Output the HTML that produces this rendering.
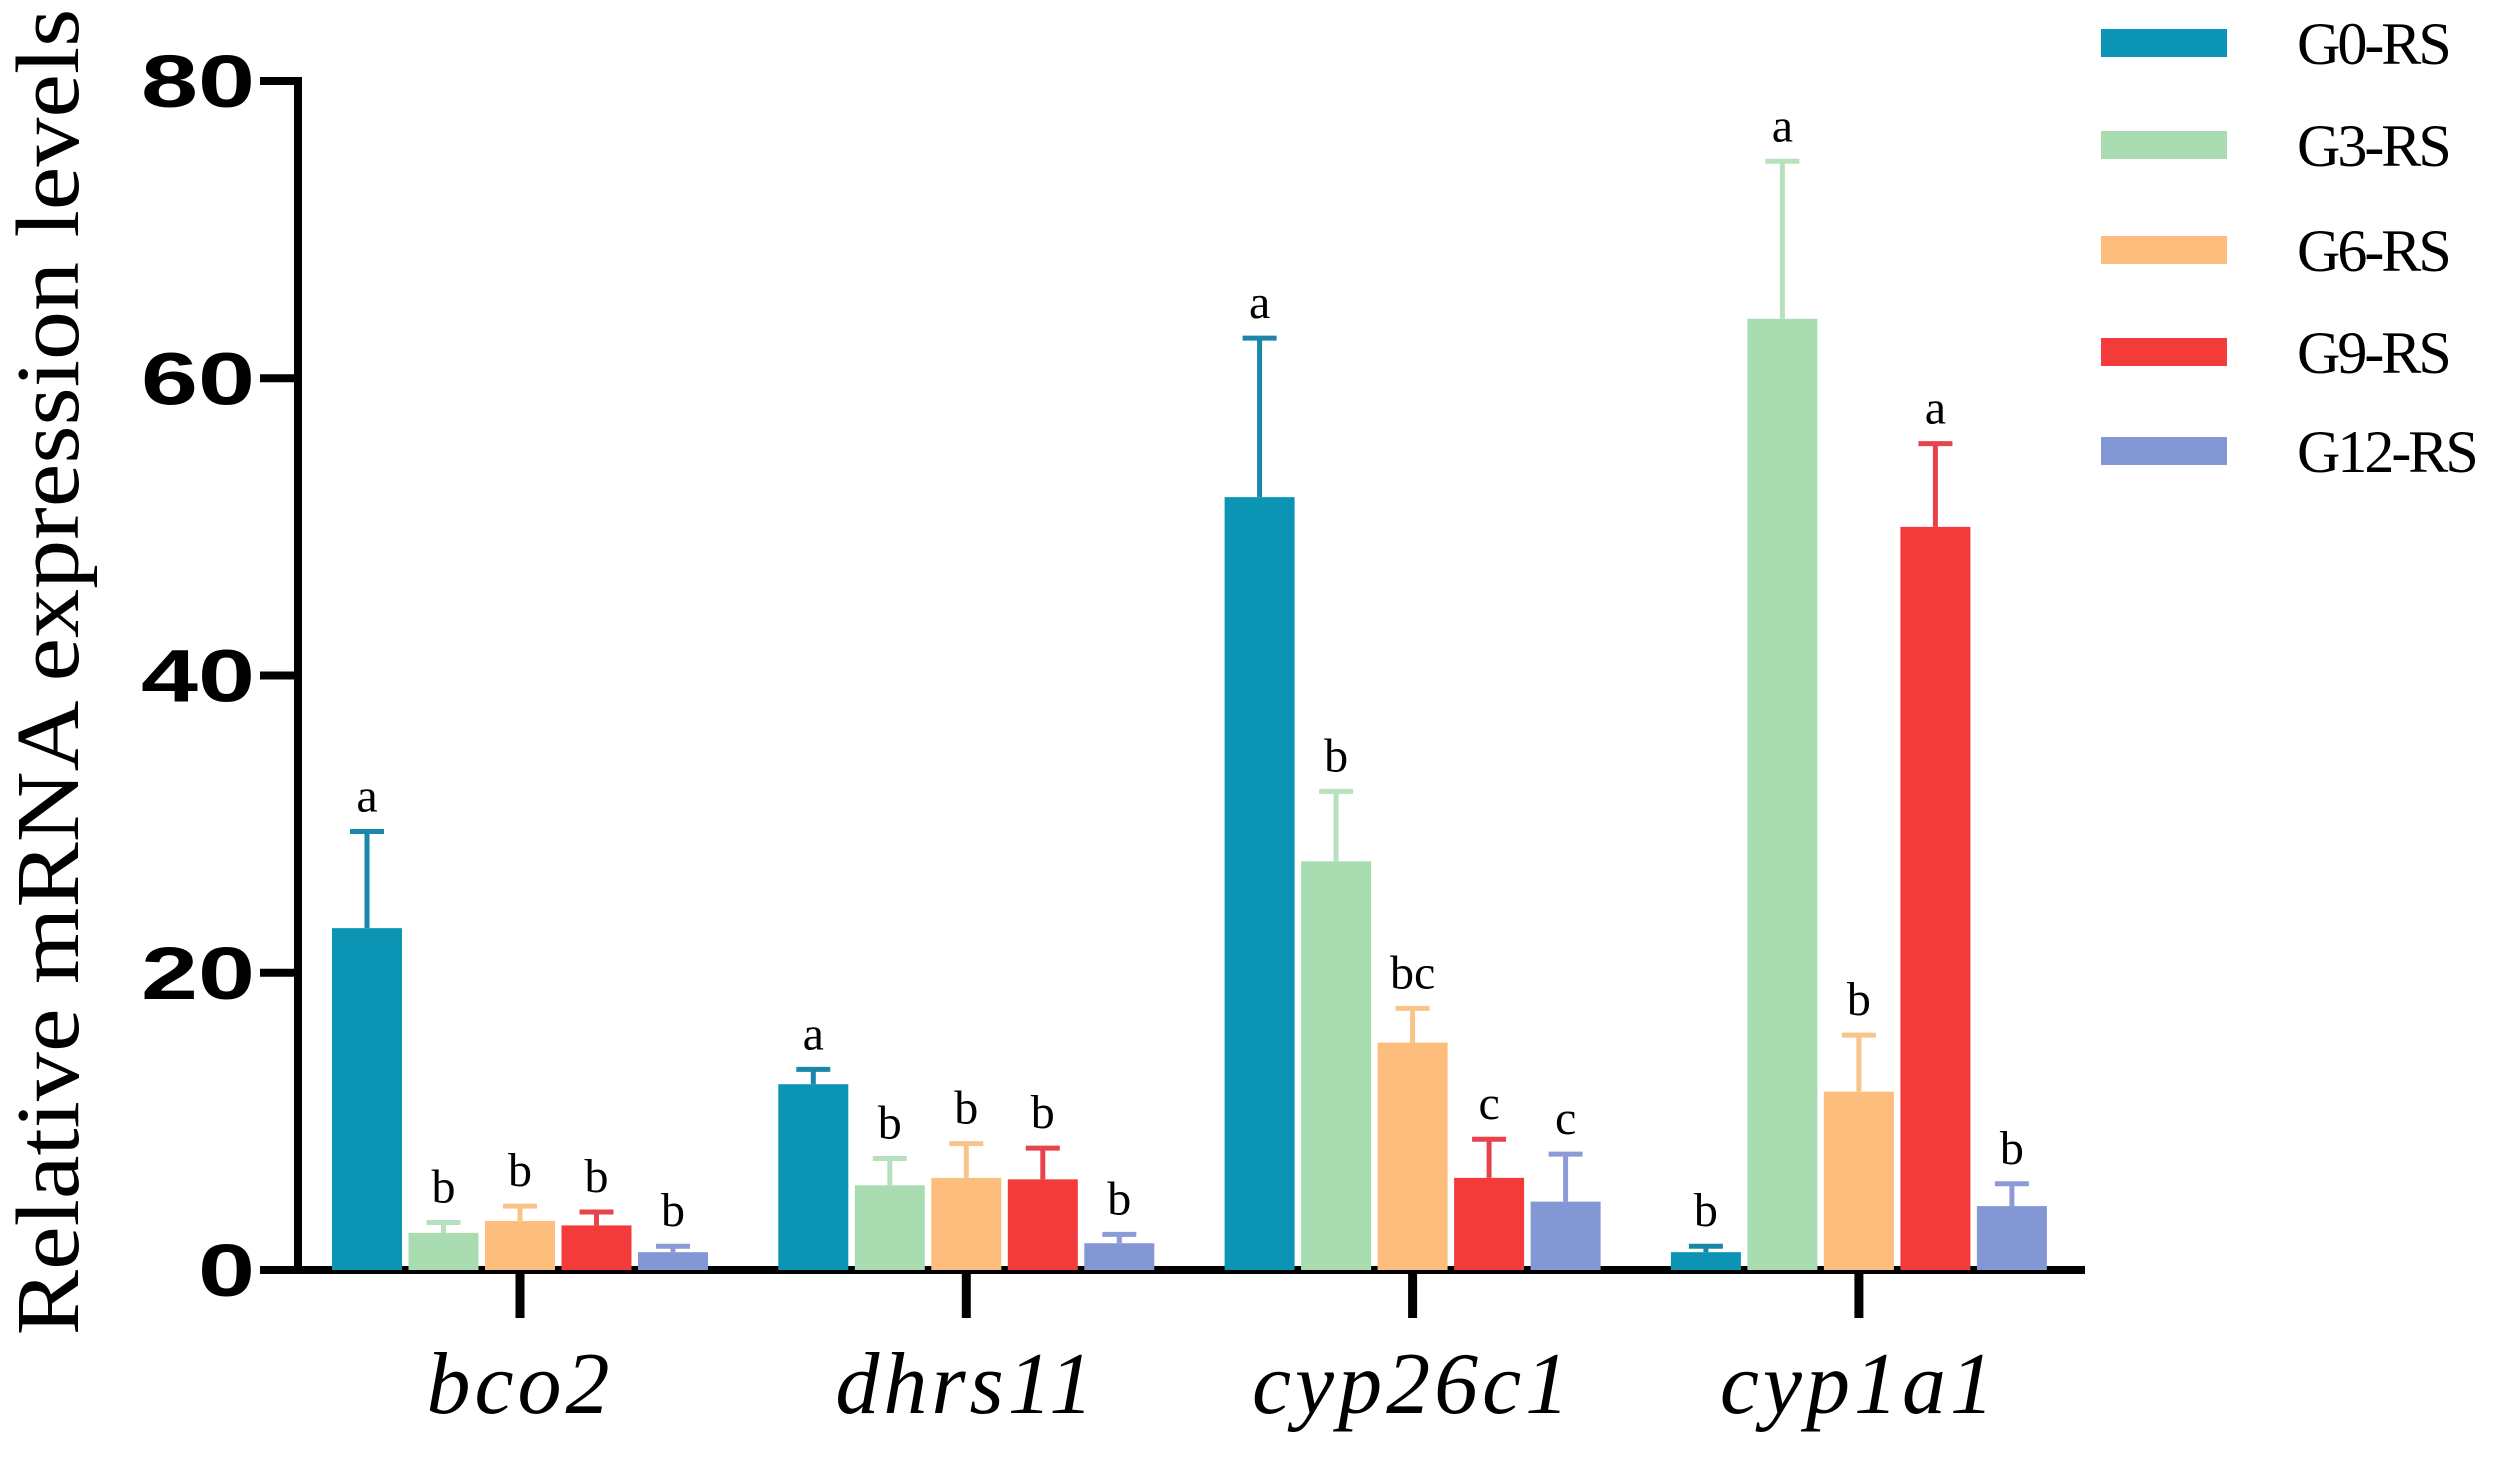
<!DOCTYPE html>
<html><head><meta charset="utf-8"><style>
html,body{margin:0;padding:0;background:#fff;}
svg{display:block;}
</style></head><body>
<svg id="chart" width="2500" height="1461" viewBox="0 0 2500 1461" xmlns="http://www.w3.org/2000/svg">
<g id="axes"></g>
<g id="bars"></g>
<g id="legend"></g>
<text transform="translate(78,672) rotate(-90) scale(1.09,1)" text-anchor="middle" font-family="Liberation Serif, serif" font-size="90">Relative mRNA expression levels</text>
</svg>
<script>
const categories = ["bco2","dhrs11","cyp26c1","cyp1a1"];
const seriesNames = ["G0-RS","G3-RS","G6-RS","G9-RS","G12-RS"];
const colors = ["#0b94b4","#a9dcb1","#fdbd7d","#f33b3b","#8497d5"];
const errColors = ["#1a86a8","#b8e0bd","#f9c48a","#e8424a","#8c9bd6"];
const g0 = [23, 12.5, 52, 1.2];
const g3 = [2.5, 5.7, 27.5, 64];
const g6 = [3.3, 6.2, 15.3, 12];
const g9 = [3, 6.1, 6.2, 50];
const g12 = [1.2, 1.8, 4.6, 4.3];
const e0 = [6.5, 1, 10.7, 0.4];
const e3 = [0.7, 1.8, 4.7, 10.6];
const e6 = [1, 2.3, 2.3, 3.8];
const e9 = [0.9, 2.1, 2.6, 5.6];
const e12 = [0.4, 0.6, 3.2, 1.5];
const letters0 = ["a","a","a","b"];
const letters3 = ["b","b","b","a"];
const letters6 = ["b","b","bc","b"];
const letters9 = ["b","b","c","a"];
const letters12 = ["b","b","c","b"];
const yTicks = [0,20,40,60,80];

const values=[g0,g3,g6,g9,g12], errs=[e0,e3,e6,e9,e12], letters=[letters0,letters3,letters6,letters9,letters12];
const NS="http://www.w3.org/2000/svg";
const X0=298, X1=2085, Y0=1270, Y80=81;
const y = v => Y0 - (v/80)*(Y0-Y80);
const catX = i => 520 + i*446.3;
const barX = (i,s) => catX(i) + (s-2)*76.5;
const BW=70;
function mk(tag,attrs,parent){const e=document.createElementNS(NS,tag);for(const k in attrs)e.setAttribute(k,attrs[k]);parent.appendChild(e);return e;}
const axes=document.getElementById('axes'), bars=document.getElementById('bars'), legend=document.getElementById('legend');

yTicks.forEach(t=>{
  const l=mk('line',{x1:260,x2:X0,y1:y(t),y2:y(t),stroke:'#000','stroke-width':8},axes);
  
  
  const s=String(t);
  const w=s.length*57;
  const tx=mk('text',{x:255-w,y:y(t)+26,'font-family':'Liberation Sans, sans-serif','font-weight':'bold','font-size':74,textLength:w,lengthAdjust:'spacingAndGlyphs'},axes);
  tx.textContent=s;
  
  
});
const ya=mk('line',{x1:X0,x2:X0,y1:Y80-4,y2:Y0+4,stroke:'#000','stroke-width':8},axes);



values.forEach((arr,s)=>{
  arr.forEach((v,i)=>{
    const cx=barX(i,s), top=y(v), et=y(v+errs[s][i]);
    const er=mk('line',{x1:cx,x2:cx,y1:top,y2:et,stroke:errColors[s],'stroke-width':5},bars);
    
    
    const cap=mk('line',{x1:cx-17,x2:cx+17,y1:et,y2:et,stroke:errColors[s],'stroke-width':5},bars);
    
    
    const r=mk('rect',{x:cx-BW/2,y:top,width:BW,height:Y0-top,fill:colors[s]},bars);
    
    
    const lt=mk('text',{x:cx,y:et-20,'text-anchor':'middle','font-family':'Liberation Serif, serif','font-size':48},bars);
    lt.textContent=letters[s][i];
    
    
  });
});

const xa=mk('line',{x1:X0-4,x2:X1,y1:Y0,y2:Y0,stroke:'#000','stroke-width':8},axes);


categories.forEach((c,i)=>{
  const t=mk('line',{x1:catX(i),x2:catX(i),y1:Y0,y2:Y0+48,stroke:'#000','stroke-width':9},axes);
  
  
  const tx=mk('text',{x:catX(i),y:1413,'text-anchor':'middle','font-family':'Liberation Serif, serif','font-style':'italic','font-size':88,'letter-spacing':4},axes);
  tx.textContent=c;
  
  
});

const legY=[43,145,250,352,451];
seriesNames.forEach((n,s)=>{
  const r=mk('rect',{x:2101,y:legY[s]-14,width:126,height:28,fill:colors[s]},legend);
  
  
  const t=mk('text',{x:2297,y:legY[s]+21,'font-family':'Liberation Serif, serif','font-size':60,'letter-spacing':-3},legend);
  t.textContent=n;
  
  
});
</script>
</body></html>
